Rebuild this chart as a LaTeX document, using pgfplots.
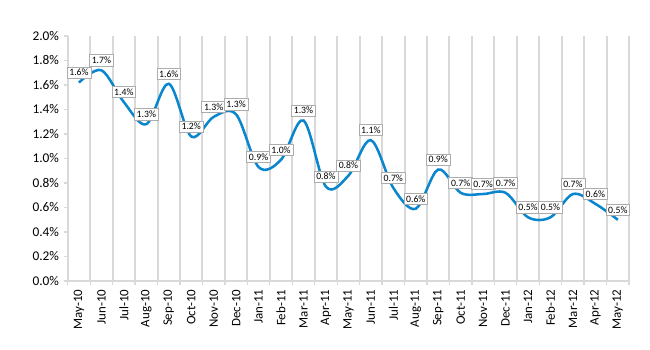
\documentclass[border=0pt]{standalone}
\usepackage{pgfplots}
\pgfplotsset{compat=1.18}
\usepackage{pgfplotstable}
\usepackage{fontspec}
\setmainfont{Carlito}
\definecolor{linec}{HTML}{0A86CF}
\definecolor{gridc}{HTML}{D9D9D9}
\pgfplotstableread{
x y lab
0 1.62 1.6\%
1 1.72 1.7\%
2 1.46 1.4\%
3 1.28 1.3\%
4 1.61 1.6\%
5 1.18 1.2\%
6 1.34 1.3\%
7 1.36 1.3\%
8 0.93 0.9\%
9 0.99 1.0\%
10 1.31 1.3\%
11 0.77 0.8\%
12 0.86 0.8\%
13 1.15 1.1\%
14 0.76 0.7\%
15 0.59 0.6\%
16 0.91 0.9\%
17 0.72 0.7\%
18 0.71 0.7\%
19 0.72 0.7\%
20 0.52 0.5\%
21 0.52 0.5\%
22 0.71 0.7\%
23 0.63 0.6\%
24 0.50 0.5\%
}\datatable
\begin{document}
\begin{tikzpicture}
\useasboundingbox (0,0) rectangle (487.5pt,262.5pt);
\begin{axis}[
  at={(50.8pt,51.75pt)}, anchor=south west,
  scale only axis, width=421pt, height=183.75pt,
  xmin=-0.5, xmax=24.5, ymin=0, ymax=2.0,
  axis lines=left, axis line style={gridc, line width=1pt, -},
  xtick={0,...,24},
  xticklabels={May-10,Jun-10,Jul-10,Aug-10,Sep-10,Oct-10,Nov-10,Dec-10,Jan-11,Feb-11,Mar-11,Apr-11,May-11,Jun-11,Jul-11,Aug-11,Sep-11,Oct-11,Nov-11,Dec-11,Jan-12,Feb-12,Mar-12,Apr-12,May-12},
  xticklabel style={rotate=90, anchor=east, font=\fontsize{9.7pt}{10pt}\selectfont},
  major x tick style={draw=none},
  minor xtick={-0.5,0.5,...,24.5},
  xminorgrids, minor grid style={gridc, line width=1.5pt},
  minor x tick style={gridc, line width=1pt},
  minor tick length=3pt,
  tick align=outside,
  ytick={0,0.2,...,2.01},
  yticklabels={0.0\%,0.2\%,0.4\%,0.6\%,0.8\%,1.0\%,1.2\%,1.4\%,1.6\%,1.8\%,2.0\%},
  yticklabel style={font=\fontsize{10pt}{10pt}\selectfont},
  major y tick style={gridc, line width=1pt},
  major tick length=3pt,
  clip=false,
]
\addplot[linec, line width=1.9pt, smooth, tension=0.55,
  nodes near coords, point meta=explicit symbolic,
  every node near coord/.style={anchor=south, yshift=3pt, inner sep=1.7pt,
    draw=gray!65, line width=0.5pt, fill=white, text=black, font=\fontsize{7.3pt}{8pt}\selectfont}]
  table[x=x, y=y, meta=lab] {\datatable};
\end{axis}
\end{tikzpicture}
\end{document}
